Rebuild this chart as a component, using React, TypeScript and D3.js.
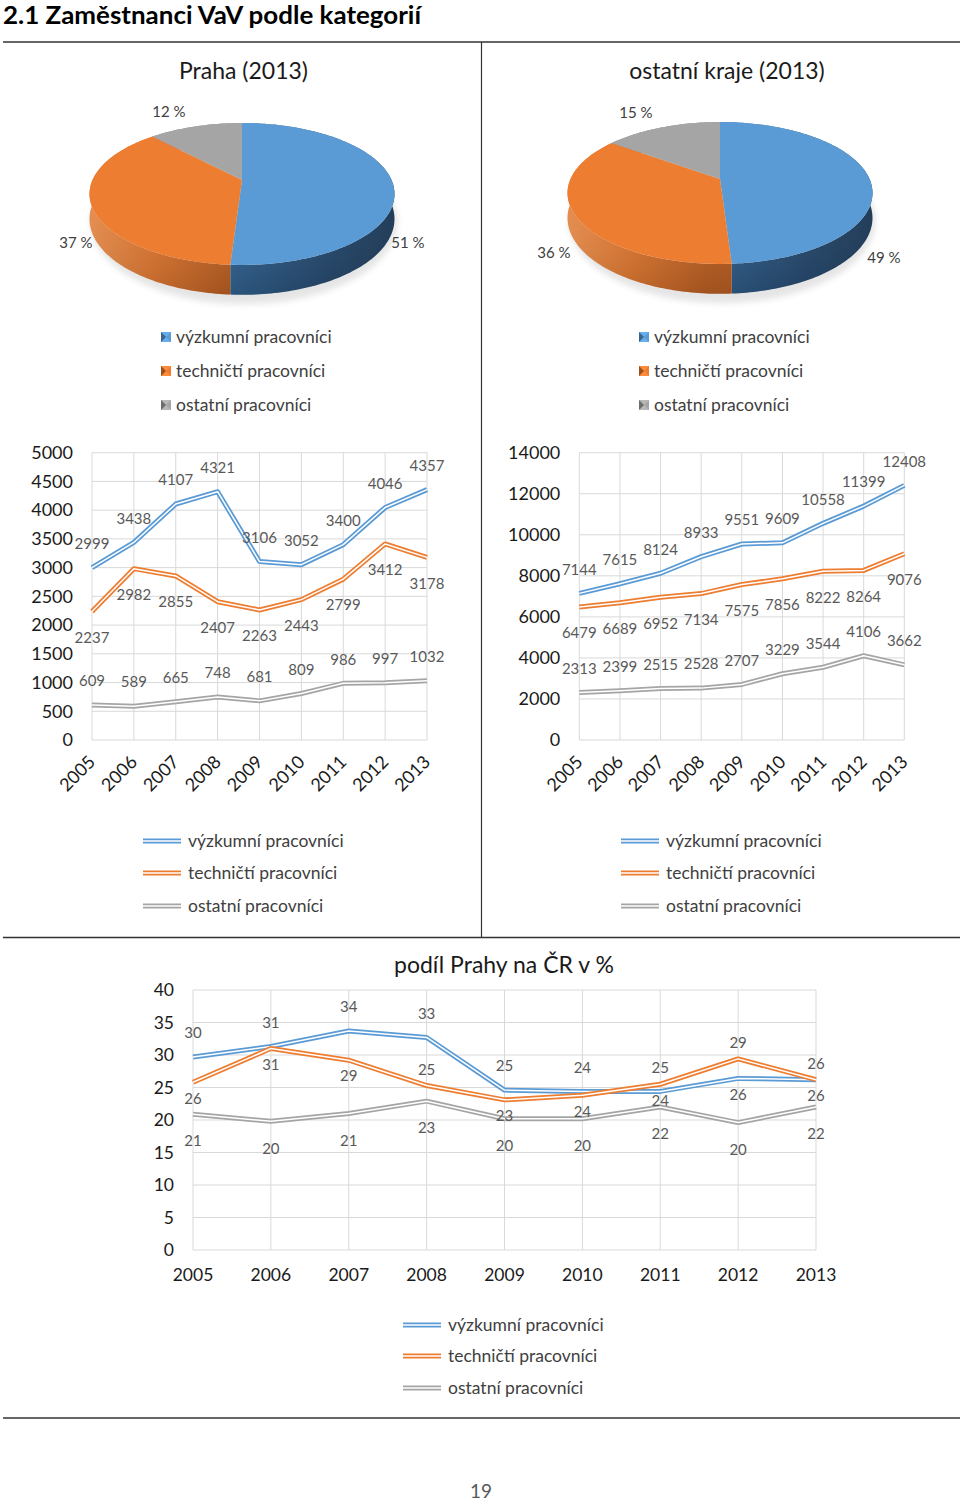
import React from "react";
import * as d3 from "d3";

// ---------- DATA ----------
const years = ["2005", "2006", "2007", "2008", "2009", "2010", "2011", "2012", "2013"];
const seriesNames = ["výzkumní pracovníci", "techničtí pracovníci", "ostatní pracovníci"];

const prahaPieShares = [51, 37, 12];
const regionsPieShares = [49, 36, 15];

const prahaResearchers = [2999, 3438, 4107, 4321, 3106, 3052, 3400, 4046, 4357];
const prahaTechnicians = [2237, 2982, 2855, 2407, 2263, 2443, 2799, 3412, 3178];
const prahaOthers = [609, 589, 665, 748, 681, 809, 986, 997, 1032];

const regionsResearchers = [7144, 7615, 8124, 8933, 9551, 9609, 10558, 11399, 12408];
const regionsTechnicians = [6479, 6689, 6952, 7134, 7575, 7856, 8222, 8264, 9076];
const regionsOthers = [2313, 2399, 2515, 2528, 2707, 3229, 3544, 4106, 3662];

// share of Prague in CR (%) – line positions and the printed labels
const shareResearchers = [29.7, 31.3, 33.7, 32.7, 24.6, 24.4, 24.4, 26.4, 26.2];
const shareTechnicians = [25.8, 31.0, 29.2, 25.3, 23.1, 23.8, 25.5, 29.4, 26.2];
const shareOthers = [20.9, 19.8, 21.0, 22.9, 20.2, 20.2, 22.0, 19.6, 22.0];
const shareResearchersLabels = ["30", "31", "34", "33", "25", "24", "25", "26", "26"];
const shareTechniciansLabels = ["26", "31", "29", "25", "23", "24", "24", "29", "26"];
const shareOthersLabels = ["21", "20", "21", "23", "20", "20", "22", "20", "22"];
const shareResearchersPlace = ["above", "above", "above", "above", "above", "above", "above", "below", "below"];
const shareTechniciansPlace = ["below", "below", "below", "above", "below", "below", "below", "above", "above"];
const shareOthersPlace = ["below", "below", "below", "below", "below", "below", "below", "below", "below"];

// ---------- STYLE ----------
const FONT = "Lato, 'Open Sans', 'DejaVu Sans', sans-serif";
const COLORS = ["#5B9BD5", "#ED7D31", "#A5A5A5"];
const SIDE_STOPS = [
  [["0", "#4A80B8"], ["0.45", "#31618F"], ["0.8", "#24466A"], ["1", "#1D3A57"]],
  [["0", "#E58B4C"], ["0.2", "#D8742F"], ["0.45", "#B85D22"], ["1", "#9C4E1C"]],
  [["0", "#9A9A9A"], ["1", "#6E6E6E"]],
];

const PIE = { p: 0.197, a: 68.2, b: 149.5, d: 24 };

function proj(cx: number, cy: number, th: number, z: number): [number, number] {
  const u = Math.sin(th);
  const v = -Math.cos(th);
  const s = 1 / (1 - PIE.p * v);
  return [cx + PIE.b * u * s, cy + PIE.a * v * s + z * PIE.d * s];
}

function arcPts(cx: number, cy: number, a0: number, a1: number, z: number) {
  const n = Math.max(2, Math.ceil(Math.abs(a1 - a0) / 0.02));
  const pts: [number, number][] = [];
  for (let i = 0; i <= n; i++) pts.push(proj(cx, cy, a0 + ((a1 - a0) * i) / n, z));
  return pts;
}

const closedLine = d3.line<[number, number]>().curve(d3.curveLinearClosed);

function Pie3D(props: {
  id: string;
  cx: number;
  cy: number;
  values: number[];
  labelOffsets: [number, number][];
}) {
  const { id, cx, cy, values, labelOffsets } = props;
  const arcs = d3.pie<number>().sort(null).startAngle(0).endAngle(2 * Math.PI)(values);
  return (
    <g>
      <defs>
        {SIDE_STOPS.map((stops, i) => (
          <linearGradient
            key={i}
            id={`${id}-side-${i}`}
            gradientUnits="userSpaceOnUse"
            x1={cx - PIE.b}
            x2={cx + PIE.b}
            y1={0}
            y2={0}
          >
            {stops.map(([o, c]) => (
              <stop key={o} offset={o} stopColor={c} />
            ))}
          </linearGradient>
        ))}
        <linearGradient id={`${id}-hl`} x1="0" x2="0" y1="0" y2="1">
          <stop offset="0" stopColor="#fff" stopOpacity="0.28" />
          <stop offset="0.35" stopColor="#fff" stopOpacity="0.0" />
          <stop offset="1" stopColor="#000" stopOpacity="0.12" />
        </linearGradient>
        <filter id={`${id}-blur`} x="-20%" y="-50%" width="140%" height="200%">
          <feGaussianBlur stdDeviation="3" />
        </filter>
      </defs>
      <ellipse cx={cx + 2} cy={cy + 42} rx={PIE.b + 4} ry={PIE.a + 14} fill="#000" opacity={0.1} filter={`url(#${id}-blur)`} />
      {arcs.map((a, i) => {
        const top = arcPts(cx, cy, a.startAngle, a.endAngle, 0);
        const bot = arcPts(cx, cy, a.endAngle, a.startAngle, 1);
        const d = closedLine([...top, ...bot]) as string;
        return (
          <g key={"s" + i}>
            <path d={d} fill={`url(#${id}-side-${i})`} />
            <path d={d} fill={`url(#${id}-hl)`} />
          </g>
        );
      })}
      {arcs.map((a, i) => {
        const pts: [number, number][] = [[cx, cy], ...arcPts(cx, cy, a.startAngle, a.endAngle, 0)];
        return <path key={"t" + i} d={closedLine(pts) as string} fill={COLORS[i]} />;
      })}
      {arcs.map((a, i) => (
        <text
          key={"l" + i}
          x={cx + labelOffsets[i][0]}
          y={cy + labelOffsets[i][1]}
          dy="0.35em"
          textAnchor="middle"
          fontSize={15}
          fill="#404040"
          fontFamily={FONT}
        >
          {`${a.data} %`}
        </text>
      ))}
    </g>
  );
}

function PieLegend({ x, ys }: { x: number; ys: number[] }) {
  return (
    <g>
      {seriesNames.map((name, i) => {
        const y = ys[i];
        const c = COLORS[i];
        const dark = d3.color(c)!.darker(1.2).formatHex();
        const light = d3.color(c)!.brighter(0.3).formatHex();
        return (
          <g key={name}>
            <rect x={x} y={y - 5} width={10} height={10} fill={light} />
            <polygon points={`${x},${y - 5} ${x + 5},${y} ${x},${y + 5}`} fill={dark} />
            <polygon points={`${x + 10},${y - 5} ${x + 5},${y} ${x + 10},${y + 5}`} fill={c} />
            <text x={x + 15} y={y} dy="0.35em" fontSize={17.5} fill="#404040" fontFamily={FONT}>
              {name}
            </text>
          </g>
        );
      })}
    </g>
  );
}

function DoubleLine({ d, color }: { d: string; color: string }) {
  return (
    <g>
      <path d={d} fill="none" stroke={color} strokeWidth={5} strokeLinejoin="round" />
      <path d={d} fill="none" stroke="#fff" strokeWidth={1.5} strokeLinejoin="round" />
    </g>
  );
}

function LineLegend({ x, ys }: { x: number; ys: number[] }) {
  return (
    <g>
      {seriesNames.map((name, i) => (
        <g key={name}>
          <DoubleLine d={`M${x},${ys[i]}H${x + 38}`} color={COLORS[i]} />
          <text x={x + 45} y={ys[i]} dy="0.35em" fontSize={17.5} fill="#404040" fontFamily={FONT}>
            {name}
          </text>
        </g>
      ))}
    </g>
  );
}

type Series = {
  values: number[];
  labels: string[];
  color: string;
  place: string[];
  offsets: Record<string, number>;
};

function LineChart(props: {
  x0: number;
  x1: number;
  yTop: number;
  yBottom: number;
  yMax: number;
  yStep: number;
  series: Series[];
  rotate: boolean;
  tickSize: number;
}) {
  const { x0, x1, yTop, yBottom, yMax, yStep, series, rotate, tickSize } = props;
  const x = d3.scalePoint<string>().domain(years).range([x0, x1]);
  const y = d3.scaleLinear().domain([0, yMax]).range([yBottom, yTop]);
  const ticks = d3.range(0, yMax + yStep / 2, yStep);
  const line = d3
    .line<number>()
    .x((_, i) => x(years[i]) as number)
    .y((v) => y(v));
  return (
    <g fontFamily={FONT}>
      {ticks.map((t) => (
        <line key={"h" + t} x1={x0} x2={x1} y1={y(t)} y2={y(t)} stroke="#D9D9D9" strokeWidth={1} />
      ))}
      {years.map((yr) => (
        <line key={"v" + yr} x1={x(yr)} x2={x(yr)} y1={yTop} y2={yBottom} stroke="#D9D9D9" strokeWidth={1} />
      ))}
      {ticks.map((t) => (
        <text key={"t" + t} x={x0 - 19} y={y(t)} dy="0.35em" textAnchor="end" fontSize={tickSize} fill="#1a1a1a">
          {t}
        </text>
      ))}
      {years.map((yr) =>
        rotate ? (
          <text
            key={"x" + yr}
            transform={`translate(${(x(yr) as number) + 4.5},${yBottom + 23}) rotate(-45)`}
            textAnchor="end"
            fontSize={tickSize}
            fill="#1a1a1a"
          >
            {yr}
          </text>
        ) : (
          <text key={"x" + yr} x={x(yr)} y={yBottom + 31} textAnchor="middle" fontSize={tickSize} fill="#1a1a1a">
            {yr}
          </text>
        )
      )}
      {series.map((s, i) => (
        <DoubleLine key={"l" + i} d={line(s.values) as string} color={s.color} />
      ))}
      {series.map((s, i) =>
        s.values.map((v, j) => (
          <text
            key={`d${i}-${j}`}
            x={x(years[j])}
            y={y(v) + s.offsets[s.place[j]]}
            dy="0.35em"
            textAnchor="middle"
            fontSize={15}
            fill="#595959"
          >
            {s.labels[j]}
          </text>
        ))
      )}
    </g>
  );
}

const topOffsets = { above: -24, below: 26 };
const all = (p: string) => years.map(() => p);

export default function App() {
  const prahaSeries: Series[] = [
    { values: prahaResearchers, labels: prahaResearchers.map(String), color: COLORS[0], place: all("above"), offsets: topOffsets },
    { values: prahaTechnicians, labels: prahaTechnicians.map(String), color: COLORS[1], place: all("below"), offsets: topOffsets },
    { values: prahaOthers, labels: prahaOthers.map(String), color: COLORS[2], place: all("above"), offsets: topOffsets },
  ];
  const regionsSeries: Series[] = [
    { values: regionsResearchers, labels: regionsResearchers.map(String), color: COLORS[0], place: all("above"), offsets: topOffsets },
    { values: regionsTechnicians, labels: regionsTechnicians.map(String), color: COLORS[1], place: all("below"), offsets: topOffsets },
    { values: regionsOthers, labels: regionsOthers.map(String), color: COLORS[2], place: all("above"), offsets: topOffsets },
  ];
  const shareSeries: Series[] = [
    { values: shareResearchers, labels: shareResearchersLabels, color: COLORS[0], place: shareResearchersPlace, offsets: { above: -24, below: 16 } },
    { values: shareTechnicians, labels: shareTechniciansLabels, color: COLORS[1], place: shareTechniciansPlace, offsets: { above: -16, below: 16 } },
    { values: shareOthers, labels: shareOthersLabels, color: COLORS[2], place: shareOthersPlace, offsets: { above: -24, below: 27 } },
  ];

  return (
    <svg
      width={960}
      height={1503}
      viewBox="0 0 960 1503"
      style={{ position: "absolute", left: 0, top: 0, display: "block" }}
      fontFamily={FONT}
    >
      <rect x={0} y={0} width={960} height={1503} fill="#fff" />
      <text x={3} y={24} fontSize={25} fontWeight={700} fill="#000" textLength={418} lengthAdjust="spacingAndGlyphs">
        2.1 Zaměstnanci VaV podle kategorií
      </text>
      <line x1={3} x2={960} y1={42} y2={42} stroke="#333" strokeWidth={1.6} />
      <line x1={481.5} x2={481.5} y1={42} y2={937} stroke="#333" strokeWidth={1.2} />
      <line x1={3} x2={960} y1={937.5} y2={937.5} stroke="#333" strokeWidth={1.6} />
      <line x1={3} x2={960} y1={1418} y2={1418} stroke="#333" strokeWidth={1.6} />

      <text x={243.5} y={79} textAnchor="middle" fontSize={23} fill="#1a1a1a">
        Praha (2013)
      </text>
      <text x={727} y={79} textAnchor="middle" fontSize={23} fill="#1a1a1a">
        ostatní kraje (2013)
      </text>

      <Pie3D id="pieL" cx={242} cy={180} values={prahaPieShares} labelOffsets={[[166, 63], [-166, 63], [-73, -68]]} />
      <Pie3D id="pieR" cx={720} cy={179} values={regionsPieShares} labelOffsets={[[164, 79], [-166, 74], [-84, -66]]} />

      <PieLegend x={161} ys={[337, 371, 405]} />
      <PieLegend x={639} ys={[337, 371, 405]} />

      <LineChart x0={92} x1={427} yTop={452.7} yBottom={740} yMax={5000} yStep={500} series={prahaSeries} rotate={true} tickSize={18} />
      <LineChart x0={579.3} x1={904.3} yTop={452.7} yBottom={740} yMax={14000} yStep={2000} series={regionsSeries} rotate={true} tickSize={18} />

      <LineLegend x={143} ys={[841, 873, 906]} />
      <LineLegend x={621} ys={[841, 873, 906]} />

      <text x={504} y={973} textAnchor="middle" fontSize={23} fill="#1a1a1a">
        podíl Prahy na ČR v %
      </text>
      <LineChart x0={193} x1={816} yTop={990} yBottom={1250} yMax={40} yStep={5} series={shareSeries} rotate={false} tickSize={17.5} />
      <LineLegend x={403} ys={[1325, 1356, 1388]} />

      <text x={481} y={1498} textAnchor="middle" fontSize={19} fill="#595959">
        19
      </text>
    </svg>
  );
}
